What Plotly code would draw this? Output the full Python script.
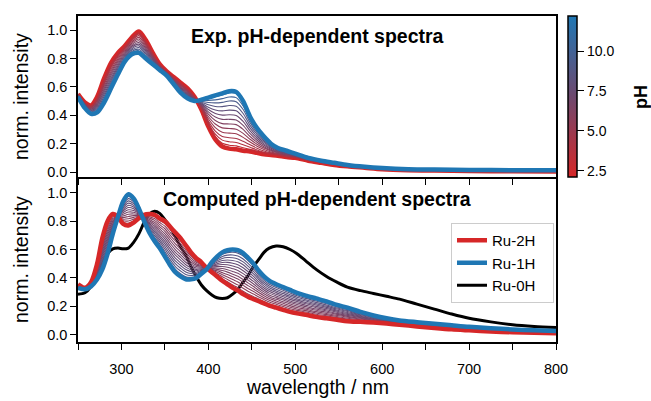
import plotly.graph_objects as go

# ---------------- data ----------------
exp_wl = [250, 258, 265, 272, 280, 288, 296, 304, 312, 320, 328, 336, 344, 352, 360,
          368, 376, 384, 392, 400, 408, 416, 424, 432, 440, 448, 456, 464, 472, 480,
          490, 500, 515, 530, 545, 560, 580, 600, 630, 660, 700, 750, 800]
exp_low_ph = [0.55, 0.49, 0.47, 0.53, 0.66, 0.77, 0.84, 0.89, 0.95, 0.99, 0.93, 0.84, 0.76, 0.71, 0.67,
              0.63, 0.59, 0.53, 0.44, 0.32, 0.23, 0.18, 0.165, 0.16, 0.15, 0.145, 0.135, 0.125, 0.12, 0.115,
              0.105, 0.10, 0.08, 0.065, 0.05, 0.04, 0.03, 0.02, 0.013, 0.01, 0.007, 0.005, 0.004]
exp_high_ph = [0.53, 0.45, 0.41, 0.42, 0.49, 0.59, 0.69, 0.78, 0.83, 0.84, 0.80, 0.76, 0.72, 0.68, 0.62,
               0.56, 0.52, 0.50, 0.51, 0.525, 0.54, 0.555, 0.57, 0.565, 0.50, 0.39, 0.31, 0.25, 0.20, 0.17,
               0.15, 0.13, 0.10, 0.08, 0.065, 0.05, 0.037, 0.028, 0.02, 0.017, 0.015, 0.013, 0.012]
# pH of each measured spectrum and its fraction of the high-pH form (read at ~420 nm)
exp_ph = [2.1, 2.6, 3.2, 3.8, 4.4, 5.0, 5.6, 6.2, 6.8, 7.4, 8.0, 8.6, 9.3, 10.0, 11.0, 12.2]
exp_frac = [0.0, 0.02, 0.06, 0.12, 0.19, 0.27, 0.35, 0.43, 0.51, 0.59, 0.67, 0.75, 0.83, 0.90, 0.97, 1.0]

comp_wl = [250, 258, 265, 272, 278, 284, 290, 296, 302, 308, 314, 320, 326, 332, 338, 344, 350, 356,
           362, 368, 374, 380, 386, 392, 398, 404, 410, 416, 422, 428, 434, 440, 446, 452, 458, 464,
           470, 478, 486, 494, 502, 512, 524, 536, 548, 560, 575, 590, 605, 620, 640, 660, 680, 700,
           725, 750, 775, 800]
ru_2h = [0.355, 0.33, 0.37, 0.50, 0.68, 0.80, 0.85, 0.83, 0.78, 0.77, 0.79, 0.82, 0.845, 0.85, 0.845,
         0.82, 0.80, 0.76, 0.72, 0.68, 0.63, 0.58, 0.54, 0.51, 0.47, 0.44, 0.41, 0.38, 0.355, 0.33,
         0.31, 0.285, 0.265, 0.25, 0.235, 0.22, 0.205, 0.19, 0.175, 0.16, 0.15, 0.14, 0.125, 0.115,
         0.105, 0.095, 0.09, 0.085, 0.078, 0.07, 0.058, 0.047, 0.037, 0.03, 0.022, 0.017, 0.013, 0.01]
ru_1h = [0.33, 0.32, 0.34, 0.39, 0.46, 0.57, 0.71, 0.83, 0.94, 0.99, 0.96, 0.89, 0.80, 0.72, 0.66,
         0.61, 0.55, 0.49, 0.44, 0.41, 0.39, 0.39, 0.40, 0.43, 0.46, 0.51, 0.55, 0.58, 0.595, 0.60,
         0.595, 0.575, 0.54, 0.50, 0.45, 0.41, 0.38, 0.355, 0.335, 0.315, 0.295, 0.275, 0.255, 0.235,
         0.21, 0.19, 0.16, 0.135, 0.115, 0.10, 0.088, 0.077, 0.066, 0.055, 0.045, 0.037, 0.03, 0.025]
ru_0h = [0.285, 0.295, 0.34, 0.43, 0.50, 0.57, 0.605, 0.61, 0.605, 0.61, 0.65, 0.71, 0.79, 0.85, 0.87,
         0.855, 0.81, 0.76, 0.69, 0.62, 0.56, 0.48, 0.41, 0.35, 0.31, 0.28, 0.26, 0.255, 0.26, 0.285,
         0.32, 0.37, 0.42, 0.48, 0.53, 0.58, 0.61, 0.625, 0.62, 0.60, 0.57, 0.52, 0.46, 0.41, 0.37,
         0.335, 0.31, 0.29, 0.27, 0.25, 0.215, 0.18, 0.145, 0.115, 0.09, 0.07, 0.058, 0.05]
# fractions of Ru-1H in the computed intermediate spectra
comp_frac = [1/14, 2/14, 3/14, 4/14, 5/14, 6/14, 7/14, 8/14, 9/14, 10/14, 11/14, 12/14, 13/14]

ph_min, ph_max = 2.1, 12.2
cbar_ticks = [2.5, 5.0, 7.5, 10.0]
x_ticks = [250, 300, 350, 400, 450, 500, 550, 600, 650, 700, 750, 800]
y_ticks = [0.0, 0.2, 0.4, 0.6, 0.8, 1.0]

# ---------------- styles ----------------
RED, BLUE, MID = (214, 39, 40), (31, 119, 180), (110, 72, 110)
FONT = "Liberation Sans, Arial, Helvetica, sans-serif"
colorscale = [[0, "#d62728"], [0.5, "rgb(110,72,110)"], [1, "#1f77b4"]]
PAD = "\u00a0\u00a0\u00a0"


def cmap(t):
    t = max(0.0, min(1.0, t))
    if t < 0.5:
        a, b, s = RED, MID, t / 0.5
    else:
        a, b, s = MID, BLUE, (t - 0.5) / 0.5
    c = [round(a[i] + (b[i] - a[i]) * s) for i in range(3)]
    return f"rgb({c[0]},{c[1]},{c[2]})"


def mix(a, b, f):
    return [(1 - f) * u + f * v for u, v in zip(a, b)]


fig = go.Figure()

# --- experimental panel ---
n = len(exp_ph)
for i, (ph, f) in enumerate(zip(exp_ph, exp_frac)):
    thick = i in (0, n - 1)
    fig.add_trace(go.Scatter(
        x=exp_wl, y=mix(exp_low_ph, exp_high_ph, f), mode="lines",
        line=dict(color=cmap((ph - ph_min) / (ph_max - ph_min)), width=4.5 if thick else 1.1,
                  shape="spline", smoothing=0.8),
        showlegend=False, hoverinfo="skip", xaxis="x", yaxis="y"))

# colorbar holder
fig.add_trace(go.Scatter(
    x=[None], y=[None], mode="markers", xaxis="x", yaxis="y", showlegend=False, hoverinfo="skip",
    marker=dict(color=[ph_min], colorscale=colorscale, cmin=ph_min, cmax=ph_max, showscale=True,
                colorbar=dict(x=(568 - 78) / 478, xanchor="left", xpad=0, ypad=0,
                              y=1, yanchor="top", len=161 / 326, lenmode="fraction",
                              thickness=9, outlinewidth=1.5, outlinecolor="black",
                              ticks="outside", ticklen=7, tickwidth=1.3, tickcolor="black",
                              tickvals=cbar_ticks, ticktext=[f"{v:.1f}" for v in cbar_ticks],
                              tickfont=dict(family=FONT, size=14, color="black")))))

# --- computed panel ---
fig.add_trace(go.Scatter(x=comp_wl, y=ru_0h, mode="lines", name="Ru-0H" + PAD, legendrank=3,
                         line=dict(color="black", width=3, shape="spline", smoothing=0.8),
                         hoverinfo="skip", xaxis="x2", yaxis="y2"))
for f in comp_frac:
    fig.add_trace(go.Scatter(
        x=comp_wl, y=mix(ru_2h, ru_1h, f), mode="lines",
        line=dict(color=cmap(0.3 + 0.4 * f), width=1.1, shape="spline", smoothing=0.8),
        showlegend=False, hoverinfo="skip", xaxis="x2", yaxis="y2"))
fig.add_trace(go.Scatter(x=comp_wl, y=ru_2h, mode="lines", name="Ru-2H" + PAD, legendrank=1,
                         line=dict(color="#d62728", width=4.5, shape="spline", smoothing=0.8),
                         hoverinfo="skip", xaxis="x2", yaxis="y2"))
fig.add_trace(go.Scatter(x=comp_wl, y=ru_1h, mode="lines", name="Ru-1H" + PAD, legendrank=2,
                         line=dict(color="#1f77b4", width=4.5, shape="spline", smoothing=0.8),
                         hoverinfo="skip", xaxis="x2", yaxis="y2"))

axis_common = dict(showline=True, linecolor="black", linewidth=1.6, mirror=True, showgrid=False,
                   zeroline=False, ticks="outside", ticklen=6, tickwidth=1.3, tickcolor="black",
                   tickfont=dict(family=FONT, size=14.5, color="black"))

fig.update_layout(
    template="none",
    width=651, height=401,
    margin=dict(l=78, r=95, t=16, b=59, autoexpand=False),
    paper_bgcolor="white", plot_bgcolor="white",
    font=dict(family=FONT, color="black"),
    xaxis=dict(axis_common, domain=[0, 1], range=[250, 800], anchor="y", tickvals=x_ticks,
               showticklabels=False),
    yaxis=dict(axis_common, domain=[165 / 326, 1], range=[-0.035, 1.1], anchor="x",
               tickvals=y_ticks, ticktext=[f"{v:.1f}" for v in y_ticks]),
    xaxis2=dict(axis_common, domain=[0, 1], range=[250, 800], anchor="y2", tickvals=x_ticks,
                ticktext=[str(v) if v % 100 == 0 else "" for v in x_ticks],
                ticklabelstandoff=7),
    yaxis2=dict(axis_common, domain=[0, 162.7 / 326], range=[-0.052, 1.095], anchor="x2",
                tickvals=y_ticks, ticktext=[f"{v:.1f}" for v in y_ticks]),
    legend=dict(x=(451 - 78) / 478, y=(342 - 223) / 326, xanchor="left", yanchor="top",
                bgcolor="white", bordercolor="#cccccc", borderwidth=1,
                font=dict(family=FONT, size=15, color="black")),
    annotations=[
        dict(text="<b>Exp. pH-dependent spectra</b>", xref="paper", yref="paper",
             x=0.5, y=(342 - 36) / 326, xanchor="center", yanchor="middle", showarrow=False,
             font=dict(family=FONT, size=19.5, color="black")),
        dict(text="<b>Computed pH-dependent spectra</b>", xref="paper", yref="paper",
             x=0.5, y=(342 - 199) / 326, xanchor="center", yanchor="middle", showarrow=False,
             font=dict(family=FONT, size=19.5, color="black")),
        dict(text="norm. intensity", xref="paper", yref="paper", textangle=-90,
             x=(21 - 78) / 478, y=(342 - 97) / 326, xanchor="center", yanchor="middle",
             showarrow=False, font=dict(family=FONT, size=19.5, color="black")),
        dict(text="norm. intensity", xref="paper", yref="paper", textangle=-90,
             x=(21 - 78) / 478, y=(342 - 260) / 326, xanchor="center", yanchor="middle",
             showarrow=False, font=dict(family=FONT, size=19.5, color="black")),
        dict(text="wavelength / nm", xref="paper", yref="paper",
             x=0.5, y=(342 - 400) / 326, xanchor="center", yanchor="bottom",
             showarrow=False, font=dict(family=FONT, size=19.5, color="black")),
        dict(text="<b>pH</b>", xref="paper", yref="paper", textangle=-90,
             x=(641 - 78) / 478, y=(342 - 97) / 326, xanchor="center", yanchor="middle",
             showarrow=False, font=dict(family=FONT, size=18, color="black")),
    ],
)

fig.write_html("out.html")
